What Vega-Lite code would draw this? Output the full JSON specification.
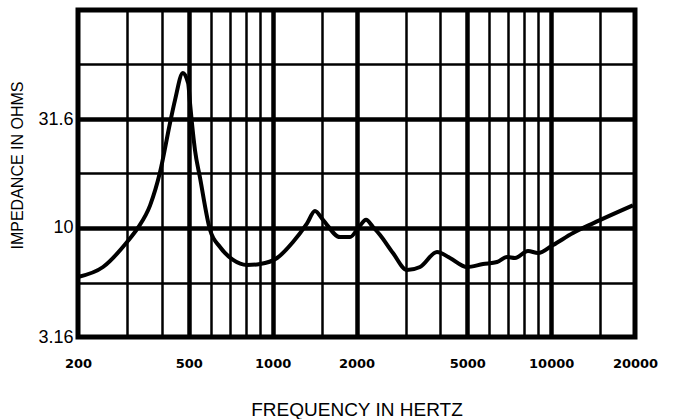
{
  "$schema": "https://vega.github.io/schema/vega-lite/v6.json",
  "width": 557,
  "height": 327,
  "autosize": {"type": "none"},
  "padding": {"left": 78, "top": 10, "right": 41, "bottom": 82},
  "background": "white",
  "config": {"view": {"stroke": "black", "strokeWidth": 5}},
  "data": {
    "values": [
      {"freq": 200, "ohms": 5.96},
      {"freq": 246, "ohms": 6.62},
      {"freq": 300, "ohms": 8.62},
      {"freq": 328, "ohms": 10.0},
      {"freq": 363, "ohms": 12.7},
      {"freq": 394, "ohms": 18.0},
      {"freq": 428, "ohms": 30.3},
      {"freq": 446, "ohms": 38.6},
      {"freq": 476, "ohms": 51.4},
      {"freq": 497, "ohms": 46.2},
      {"freq": 505, "ohms": 37.4},
      {"freq": 513, "ohms": 30.3},
      {"freq": 526, "ohms": 22.8},
      {"freq": 548, "ohms": 17.1},
      {"freq": 596, "ohms": 9.78},
      {"freq": 647, "ohms": 8.18},
      {"freq": 721, "ohms": 7.13},
      {"freq": 809, "ohms": 6.76},
      {"freq": 901, "ohms": 6.83},
      {"freq": 1037, "ohms": 7.28},
      {"freq": 1183, "ohms": 8.62},
      {"freq": 1329, "ohms": 10.5},
      {"freq": 1419, "ohms": 11.96},
      {"freq": 1516, "ohms": 10.9},
      {"freq": 1745, "ohms": 9.08},
      {"freq": 1895, "ohms": 9.08},
      {"freq": 2042, "ohms": 10.1},
      {"freq": 2164, "ohms": 10.9},
      {"freq": 2293, "ohms": 10.1},
      {"freq": 2430, "ohms": 9.28},
      {"freq": 2704, "ohms": 7.67},
      {"freq": 3037, "ohms": 6.41},
      {"freq": 3381, "ohms": 6.62},
      {"freq": 3891, "ohms": 7.76},
      {"freq": 4333, "ohms": 7.28},
      {"freq": 4988, "ohms": 6.62},
      {"freq": 5693, "ohms": 6.83},
      {"freq": 6392, "ohms": 6.98},
      {"freq": 6941, "ohms": 7.36},
      {"freq": 7416, "ohms": 7.28},
      {"freq": 8256, "ohms": 7.84},
      {"freq": 8970, "ohms": 7.67},
      {"freq": 10154, "ohms": 8.35},
      {"freq": 11980, "ohms": 9.48},
      {"freq": 14130, "ohms": 10.5},
      {"freq": 19670, "ohms": 12.7}
    ]
  },
  "mark": {"type": "line", "color": "black", "strokeWidth": 4, "interpolate": "monotone"},
  "encoding": {
    "x": {
      "field": "freq",
      "type": "quantitative",
      "scale": {"type": "log", "domain": [200, 20000], "nice": false},
      "axis": {
        "values": [200, 300, 400, 500, 600, 700, 800, 900, 1000, 1500, 2000, 3000, 4000, 5000, 6000, 7000, 8000, 9000, 10000, 15000, 20000],
        "labelExpr": "indexof([200,500,1000,2000,5000,10000,20000], datum.value) >= 0 ? format(datum.value, 'd') : ''",
        "labelOverlap": false,
        "labelFlush": false,
        "labelBound": false,
        "labelFont": "DejaVu Sans",
        "labelFontWeight": "bold",
        "labelFontSize": 13,
        "labelColor": "black",
        "labelPadding": 20,
        "ticks": false,
        "domain": false,
        "grid": true,
        "gridColor": "black",
        "gridOpacity": 1,
        "gridWidth": {"condition": {"test": "indexof([500,1000,2000,5000,10000], datum.value) >= 0", "value": 4.5}, "value": 2.5},
        "title": "FREQUENCY IN HERTZ",
        "titleFont": "Liberation Sans",
        "titleFontWeight": "normal",
        "titleFontSize": 19,
        "titleColor": "black",
        "titleY": 72,
        "titleBaseline": "middle"
      }
    },
    "y": {
      "field": "ohms",
      "type": "quantitative",
      "scale": {"type": "log", "domain": [3.16, 100], "nice": false},
      "axis": {
        "values": [3.16, 5.62, 10, 17.78, 31.6, 56.23, 100],
        "labelExpr": "datum.value == 3.16 ? '3.16' : datum.value == 10 ? '10' : datum.value == 31.6 ? '31.6' : ''",
        "labelOverlap": false,
        "labelFlush": false,
        "labelBound": false,
        "labelFont": "Liberation Sans",
        "labelFontSize": 18,
        "labelColor": "black",
        "labelPadding": 5,
        "ticks": false,
        "domain": false,
        "grid": true,
        "gridColor": "black",
        "gridOpacity": 1,
        "gridWidth": {"condition": {"test": "datum.value == 10 || datum.value == 31.6", "value": 4.5}, "value": 2.5},
        "title": "IMPEDANCE IN OHMS",
        "titleFont": "Liberation Sans",
        "titleFontWeight": "normal",
        "titleFontSize": 16,
        "titleColor": "black",
        "titleAngle": -90,
        "titleX": -61,
        "titleY": 155,
        "titleAlign": "center",
        "titleBaseline": "middle"
      }
    }
  }
}
